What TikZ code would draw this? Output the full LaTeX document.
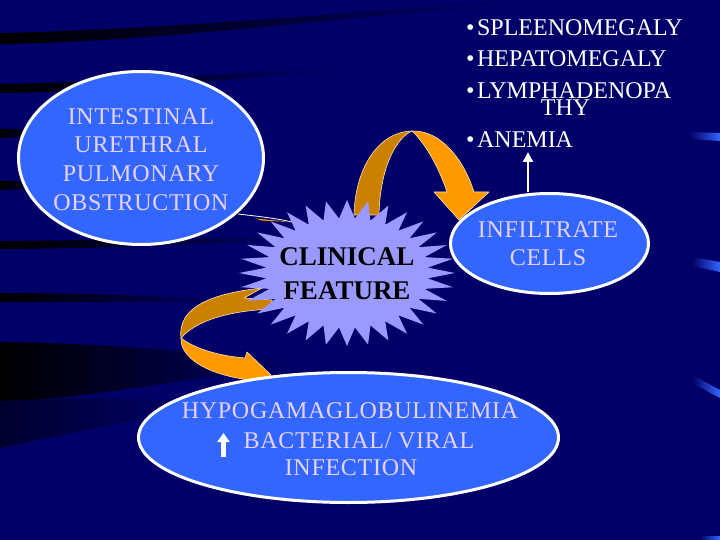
\documentclass[tikz,border=0pt]{standalone}
\usepackage{fontspec}
\setmainfont{Liberation Serif}
\newfontfamily\ellfont{Liberation Serif}[LetterSpace=3]
\usetikzlibrary{shapes.geometric,arrows.meta}
\definecolor{bgnavy}{RGB}{0,0,104}
\definecolor{ellblue}{RGB}{51,102,255}
\definecolor{lav}{RGB}{230,210,250}
\definecolor{starfill}{RGB}{153,153,255}
\definecolor{olight}{RGB}{255,153,0}
\definecolor{odark}{RGB}{204,128,0}
\definecolor{oedge}{RGB}{255,230,170}
\begin{document}
\begin{tikzpicture}[x=1pt,y=-1pt,
  streak/.style={left color=black, middle color=black!50!bgnavy, right color=bgnavy},
  glint/.style={left color=bgnavy, right color=ellblue},
  ribbon/.style={draw=oedge, line width=0.6pt, line join=round},
  ellb/.style={ellipse, draw=white, line width=3pt, fill=ellblue, inner sep=0pt},
  lt/.style={anchor=base, text=lav, inner sep=0pt, font=\ellfont\fontsize{24}{28}\selectfont},
  wt/.style={anchor=base west, text=white, inner sep=0pt, font=\fontsize{24}{28}\selectfont},
  cf/.style={anchor=base, text=black, inner sep=0pt, font=\fontsize{27}{32}\selectfont\bfseries},
  wline/.style={white, line width=2.4pt, -{Triangle[width=10pt,length=10pt]}},
]
\useasboundingbox (0,0) rectangle (720,540);
\fill[bgnavy] (0,0) rectangle (720,540);
% background streaks (left, dark)
\shade[streak] (0,33) .. controls (150,30) and (330,14) .. (520,0) -- (520,3) .. controls (330,19) and (150,42) .. (0,44) -- cycle;
\shade[streak] (0,84) .. controls (120,82) and (250,72) .. (340,66) -- (340,69) .. controls (250,78) and (120,92) .. (0,93) -- cycle;
\shade[streak] (0,129) .. controls (30,129) .. (70,127) -- (70,131) .. controls (30,137) .. (0,138) -- cycle;
\shade[streak] (0,181) .. controls (30,181) .. (70,179) -- (70,183) .. controls (30,189) .. (0,190) -- cycle;
\shade[streak] (0,241) .. controls (100,240) and (200,238) .. (300,237) -- (300,240) .. controls (200,244) and (100,249) .. (0,249) -- cycle;
\shade[streak] (0,293) .. controls (80,293) and (160,296) .. (240,300) -- (240,303) .. controls (160,302) and (80,302) .. (0,302) -- cycle;
\shade[streak] (0,342) .. controls (100,343) and (200,352) .. (300,362) -- (300,366) .. controls (200,375) and (100,398) .. (0,402) -- cycle;
\shade[left color=black!55!bgnavy, right color=bgnavy] (0,401) .. controls (100,397) and (150,398) .. (200,402) -- (200,408) .. controls (120,422) and (60,436) .. (0,448) -- cycle;
% background glints (right, blue)
\shade[glint] (690,132) -- (720,133) -- (720,141) -- (690,139) -- cycle;
\shade[glint] (692,257) -- (720,262) -- (720,272) -- (692,266) -- cycle;
\shade[glint] (692,375) -- (720,390) -- (720,398) -- (692,383) -- cycle;
\shade[glint] (700,536) -- (720,536) -- (720,540) -- (700,540) -- cycle;
% thin sliver from left ellipse towards the star
\coordinate (slA) at (238,214);
\coordinate (slB) at (292,222);
\draw[white, line width=0.8pt] (slA) .. controls (255,216) and (275,218) .. (slB);
\fill[olight] (255,218.5) -- (slB) -- (262,220.6) -- cycle;
% top curved ribbon arrow
\path[ribbon, fill=odark] (354,215) .. controls (355,170) and (377,132) .. (412,131) .. controls (396,138) and (380,168) .. (379,215) -- cycle;
\path[ribbon, fill=olight] (412,131) .. controls (441,130) and (464,160) .. (474,192) -- (489,192) -- (459,220) -- (434,192) -- (447,192) .. controls (438,165) and (424,142) .. (412,131) -- cycle;
% lower curved ribbon arrow
\path[ribbon, fill=odark] (262,288) .. controls (215,293) and (177,306) .. (181,338) .. controls (195,322) and (225,311) .. (272,309) -- (272,300) -- (244,298) -- cycle;
\path[ribbon, fill=olight] (181,338) .. controls (180,357) and (205,373) .. (243,379) -- (252,392) -- (271,375) -- (247,352) -- (245,358) .. controls (220,356) and (195,349) .. (181,338) -- cycle;
% star
\fill[starfill] (455,273) \foreach \k in {1,...,63} {-- ({347+ifthenelse(isodd(\k),81,108)*cos(\k*5.625)}, {273+ifthenelse(isodd(\k),54.75,73)*sin(\k*5.625)})} -- cycle;
\node[cf] (cf1) at (347,265) {CLINICAL};
\node[cf] (cf2) at (347,299) {FEATURE};
% ellipses
\node[ellb, minimum width=245pt, minimum height=173pt] (lft) at (141,158) {};
\node[ellb, minimum width=198pt, minimum height=100pt] (inf) at (549.5,243.5) {};
\node[ellb, minimum width=420pt, minimum height=130pt] (bot) at (348.5,437.5) {};
\node[lt] (l1) at (141,125) {INTESTINAL};
\node[lt] (l2) at (141,153) {URETHRAL};
\node[lt] (l3) at (141,182) {PULMONARY};
\node[lt] (l4) at (141,211) {OBSTRUCTION};
\node[lt] (i1) at (548,237) {INFILTRATE};
\node[lt] (i2) at (548,265) {CELLS};
\node[lt] (b1) at (350,418) {HYPOGAMAGLOBULINEMIA};
\node[lt] (b2) at (359,448) {BACTERIAL/ VIRAL};
\node[lt] (b3) at (351,475) {INFECTION};
% list
\node[wt] (s1) at (466,36) {•\hspace{2.5pt}SPLEENOMEGALY};
\node[wt] (s2) at (466,67) {•\hspace{2.5pt}HEPATOMEGALY};
\node[wt] (s3) at (466,99) {•\hspace{2.5pt}LYMPHADENOPA};
\node[wt, anchor=base] (s3b) at (565.5,116) {THY};
\node[wt] (s4) at (466,148) {•\hspace{2.5pt}ANEMIA};
% white arrows
\coordinate (atip) at (528,152);
\draw[wline] ([xshift=-21.5pt]inf.north) -- (atip);
\coordinate (upA) at (223.5,457);
\coordinate (upB) at (223.5,433);
\draw[white, line width=4.6pt, -{Triangle[width=12pt,length=9pt]}] (upA) -- (upB);
\end{tikzpicture}
\end{document}
